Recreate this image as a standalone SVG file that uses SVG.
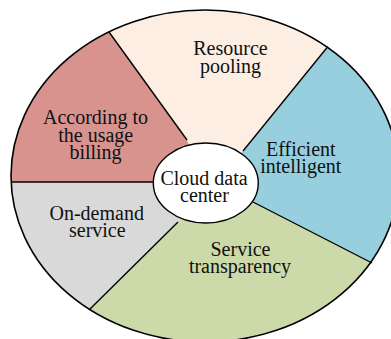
<svg xmlns="http://www.w3.org/2000/svg" width="391" height="339" viewBox="0 0 391 339">
<style>
text{font-family:"Liberation Serif","Times New Roman",serif;font-size:20px;fill:#111;text-anchor:middle}
.spoke{stroke:#000;stroke-width:1.4;fill:none}
</style>
<defs>
<clipPath id="outerClip"><ellipse cx="205" cy="176" rx="194" ry="166"/></clipPath>
</defs>
<rect width="391" height="339" fill="#fff"/>
<g clip-path="url(#outerClip)">
<g id="billing">
<path d="M205,182 L153,182 L-20,182 L-20,-20 L77.8,-11.2 L187,140 Z" fill="#D8938F"/>
</g>
<g id="pooling">
<path d="M205,182 L187,140 L77.8,-11.2 L378.5,-15.9 L243,151 Z" fill="#FCEEE3"/>
</g>
<g id="efficient">
<path d="M205,182 L243,151 L378.5,-15.9 L420,-20 L420,287.4 L419.6,287.4 L253,202 Z" fill="#97CFDF"/>
</g>
<g id="transparency">
<path d="M205,182 L253,202 L419.6,287.4 L420,362 L37.2,361.2 L178,222 Z" fill="#CCDAAA"/>
</g>
<g id="ondemand">
<path d="M205,182 L178,222 L37.2,361.2 L-20,361 L-20,182 L153,182 Z" fill="#D9D9D9"/>
</g>
</g>
<g id="connectors">
<line class="spoke" x1="153" y1="182" x2="11" y2="182"/>
<line class="spoke" x1="187" y1="140" x2="109" y2="32"/>
<line class="spoke" x1="243" y1="151" x2="327.7" y2="46.7"/>
<line class="spoke" x1="253" y1="202" x2="372" y2="263"/>
<line class="spoke" x1="178" y1="222" x2="90" y2="309"/>
</g>
<ellipse cx="205" cy="176" rx="194" ry="166" fill="none" stroke="#000" stroke-width="1.6"/>
<g id="center">
<ellipse cx="205.8" cy="183" rx="52.5" ry="40" fill="#fff" stroke="#000" stroke-width="1.4"/>
<text x="204" y="185">Cloud data<tspan x="204.5" dy="16.7">center</tspan></text>
</g>
<g id="billing-label">
<text x="95.5" y="124">According to<tspan x="95.7" dy="17.7">the usage</tspan><tspan x="95.5" dy="17.6">billing</tspan></text>
</g>
<g id="pooling-label">
<text x="230.5" y="55">Resource<tspan x="230.5" dy="17.7">pooling</tspan></text>
</g>
<g id="efficient-label">
<text x="300.8" y="155.7">Efficient<tspan x="300.8" dy="17">intelligent</tspan></text>
</g>
<g id="transparency-label">
<text x="240.5" y="256">Service<tspan x="240" dy="16.7">transparency</tspan></text>
</g>
<g id="ondemand-label">
<text x="96.7" y="220">On-demand<tspan x="97.3" dy="16.7">service</tspan></text>
</g>
</svg>
